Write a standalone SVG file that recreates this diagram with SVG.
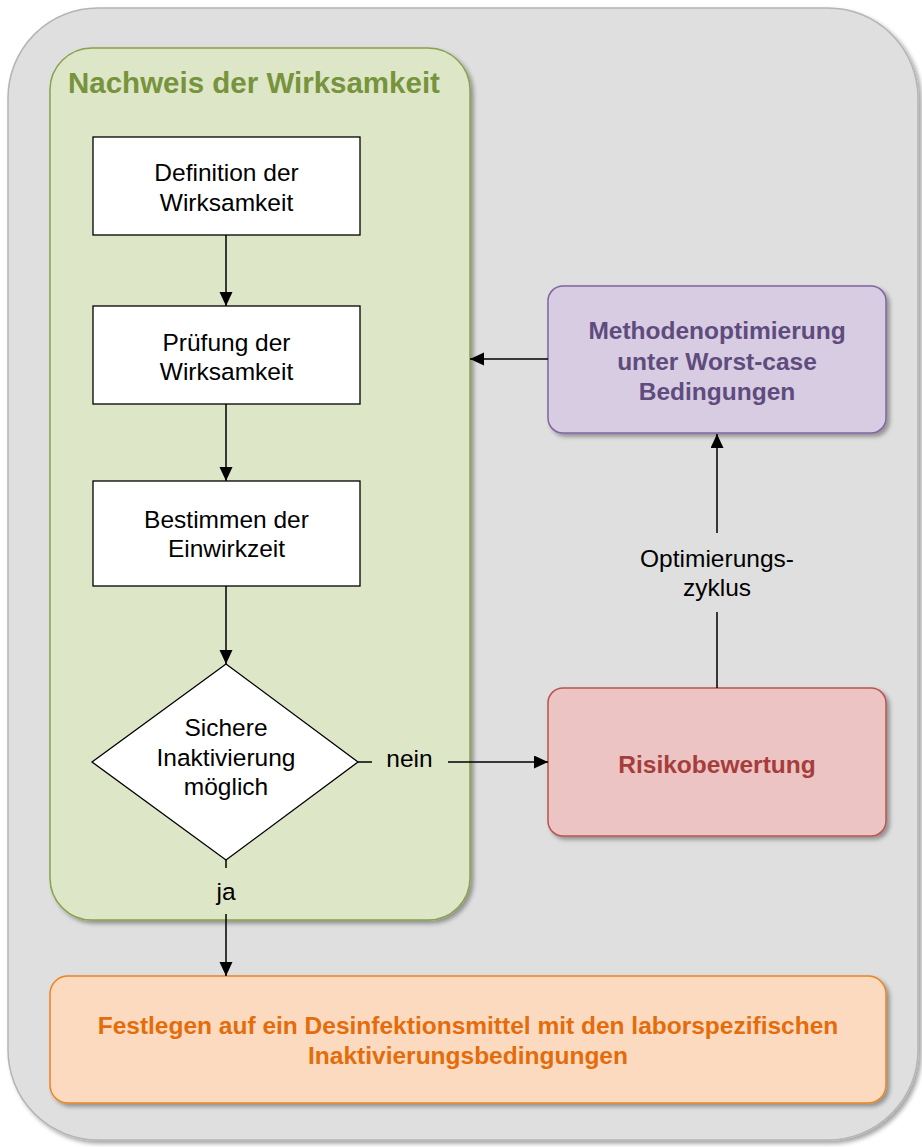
<svg xmlns="http://www.w3.org/2000/svg" width="922" height="1147" viewBox="0 0 922 1147">
<defs>
<style>
text{font-family:"Liberation Sans",Arial,Helvetica,sans-serif;font-size:24.5px;text-anchor:middle;fill:#000}
.b{font-weight:bold}
.box{fill:#fff;stroke:#000;stroke-width:1.3}
.conn{fill:none;stroke:#000;stroke-width:1.5}
</style>
<filter id="sh" x="-10%" y="-10%" width="120%" height="120%">
<feDropShadow dx="3" dy="3" stdDeviation="2" flood-color="#000" flood-opacity="0.35"/>
</filter>
<marker id="arr" markerUnits="userSpaceOnUse" markerWidth="14" markerHeight="14" refX="14" refY="6.5" orient="auto">
<path d="M0,0 L14,6.5 L0,13 z" fill="#000"/>
</marker>
</defs>
<rect width="922" height="1147" fill="#fff"/>
<g id="outer">
<rect x="8" y="8" width="910" height="1132" rx="90" ry="90" fill="#dfdfdf" stroke="#b5b5b5" stroke-width="1.5" filter="url(#sh)"/>
</g>
<g id="nachweis">
<rect x="50" y="48" width="420" height="872" rx="42" ry="42" fill="#dee6c8" stroke="#86a34a" stroke-width="1.5" filter="url(#sh)"/>
<text x="68" y="93" class="b" style="font-size:29.5px;text-anchor:start;fill:#77933c">Nachweis der Wirksamkeit</text>
</g>
<g id="definition">
<rect class="box" x="93" y="137" width="267" height="98"/>
<text x="226.5" y="181">Definition der</text>
<text x="226.5" y="211">Wirksamkeit</text>
</g>
<g id="pruefung">
<rect class="box" x="93" y="306" width="267" height="98"/>
<text x="226.5" y="351">Prüfung der</text>
<text x="226.5" y="380">Wirksamkeit</text>
</g>
<g id="bestimmen">
<rect class="box" x="93" y="481" width="267" height="105"/>
<text x="226.5" y="528">Bestimmen der</text>
<text x="226.5" y="557">Einwirkzeit</text>
</g>
<g id="entscheidung">
<polygon points="226,664 358,762 226,860 92,762" fill="#fff" stroke="#000" stroke-width="1.3"/>
<text x="226" y="736">Sichere</text>
<text x="226" y="766">Inaktivierung</text>
<text x="226" y="795">möglich</text>
</g>
<g id="methodenoptimierung">
<rect x="548" y="286" width="338" height="147" rx="15" ry="15" fill="#d7cce1" stroke="#8064a2" stroke-width="1.5" filter="url(#sh)"/>
<text x="717" y="339" class="b" fill="#5f4b7e" style="fill:#5f4b7e">Methodenoptimierung</text>
<text x="717" y="369.5" class="b" style="fill:#5f4b7e">unter Worst-case</text>
<text x="717" y="399.5" class="b" style="fill:#5f4b7e">Bedingungen</text>
</g>
<g id="risikobewertung">
<rect x="548" y="688" width="338" height="148" rx="15" ry="15" fill="#ecc4c4" stroke="#b85450" stroke-width="1.5" filter="url(#sh)"/>
<text x="717" y="773" class="b" style="fill:#a63d3b">Risikobewertung</text>
</g>
<g id="festlegen">
<rect x="50" y="976" width="836" height="127" rx="18" ry="18" fill="#fbdac0" stroke="#ea8420" stroke-width="1.5" filter="url(#sh)"/>
<text x="468" y="1034" class="b" style="fill:#e46c0a">Festlegen auf ein Desinfektionsmittel mit den laborspezifischen</text>
<text x="468" y="1064" class="b" style="fill:#e46c0a">Inaktivierungsbedingungen</text>
</g>
<g id="connectors">
<path class="conn" d="M226,235 V306" marker-end="url(#arr)"/>
<path class="conn" d="M226,404 V481" marker-end="url(#arr)"/>
<path class="conn" d="M226,586 V664" marker-end="url(#arr)"/>
<path class="conn" d="M226,860 V868 M226,914 V976" marker-end="url(#arr)"/>
<text x="226" y="900">ja</text>
<path class="conn" d="M358,762 H372 M448,762 H548" marker-end="url(#arr)"/>
<text x="409.5" y="767">nein</text>
<path class="conn" d="M717,688 V612 M717,533 V434" marker-end="url(#arr)"/>
<text x="717" y="567">Optimierungs-</text>
<text x="717" y="596">zyklus</text>
<path class="conn" d="M548,359 H470" marker-end="url(#arr)"/>
</g>
</svg>
